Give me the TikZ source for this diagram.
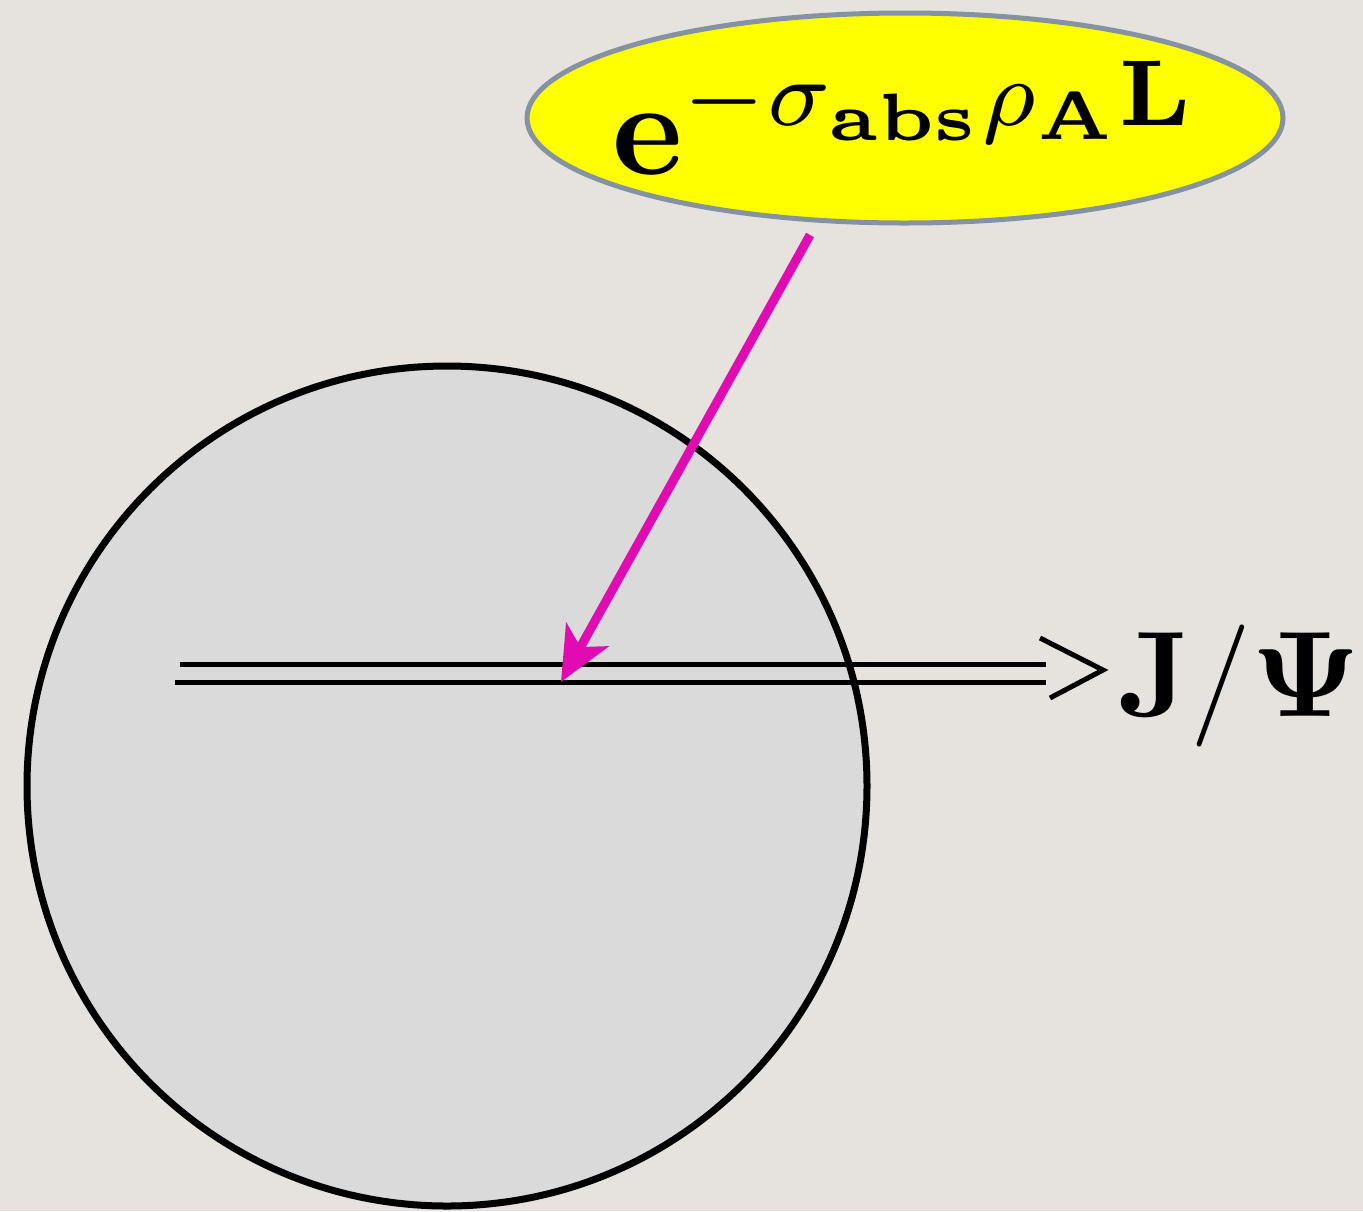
\documentclass[tikz,border=0pt]{standalone}
\usepackage{amsmath,bm}
\usetikzlibrary{arrows.meta,shapes.geometric}
\definecolor{bgc}{HTML}{E6E3DE}
\definecolor{nucl}{HTML}{DADADA}
\definecolor{mag}{HTML}{E20BB2}
\definecolor{rimc}{HTML}{8592A2}
\definecolor{yel}{HTML}{FFFF00}
\tikzset{
  nucleus/.style={circle,draw=black,fill=nucl,line width=3.5pt,minimum size=420pt,inner sep=0pt},
  formula/.style={ellipse,draw=rimc,fill=yel,line width=2.5pt,minimum width=378pt,minimum height=105pt,inner sep=0pt},
  track/.style={line width=2.5pt,black},
  probe/.style={line width=4.5pt,mag,-{Stealth[length=27pt,width=24pt,inset=7pt]}},
}
\begin{document}
\begin{tikzpicture}[x=0.5pt,y=-0.5pt]
\fill[bgc] (0,0) rectangle (1363,1211);
\useasboundingbox (0,0) rectangle (1363,1211);
\node[nucleus] (nuc) at (447,786) {};
\node[formula] (expo) at (905,118) {\makebox[0pt]{\scalebox{6.7}{$\mathbf{e}^{-\sigma_{\mathbf{abs}}\rho_{\mathbf{A}}\mathbf{L}}$}}};
\node[anchor=base west,inner sep=0pt] (jpsi) at (1118,716) {\scalebox{6.1}{$\mathbf{J}/\bm{\Psi}$}};
\coordinate (t1) at (180,664);
\coordinate (t2) at (175,682);
\coordinate (e1) at (1046,664);
\coordinate (e2) at (1046,682);
\coordinate (tipb) at (1040,638);
\coordinate (tipc) at (1050,698);
\coordinate (tip) at (1103,670);
\draw[track] (t1) -- (e1);
\draw[track] (t2) -- (e2);
\draw[track,line join=miter] (tipb) -- (tip) -- (tipc);
\coordinate (src) at (810,235);
\coordinate (hit) at (561,682);
\draw[probe] (src) -- (hit);
\end{tikzpicture}
\end{document}
